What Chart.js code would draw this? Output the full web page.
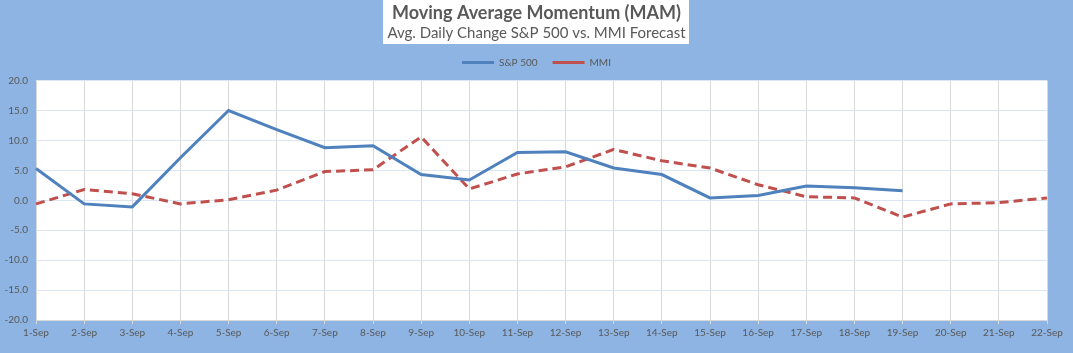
<!DOCTYPE html>
<html>
<head>
<meta charset="utf-8">
<script src="https://cdn.jsdelivr.net/npm/chart.js@4/dist/chart.umd.min.js"></script>
<style>
  html, body { margin: 0; padding: 0; background: #8db4e2; }
  #wrap { width: 1073px; height: 353px; }
</style>
</head>
<body>
<div id="wrap"><canvas id="mam"></canvas></div>
<script>
const days = ["1-Sep", "2-Sep", "3-Sep", "4-Sep", "5-Sep", "6-Sep", "7-Sep", "8-Sep", "9-Sep", "10-Sep", "11-Sep",
  "12-Sep", "13-Sep", "14-Sep", "15-Sep", "16-Sep", "17-Sep", "18-Sep", "19-Sep", "20-Sep", "21-Sep", "22-Sep"];
const sp500 = [5.3, -0.6, -1.1, 7.1, 15.0, 11.8, 8.8, 9.1, 4.3, 3.4, 8.0, 8.1, 5.4, 4.3, 0.4, 0.8, 2.4, 2.1, 1.6, null, null, null];
const mmi = [-0.6, 1.8, 1.1, -0.6, 0.1, 1.7, 4.8, 5.1, 10.6, 1.9, 4.4, 5.6, 8.5, 6.6, 5.4, 2.6, 0.6, 0.4, -2.8, -0.6, -0.4, 0.4];
const yTicks = [-20, -15, -10, -5, 0, 5, 10, 15, 20];

const titleText = "Moving Average Momentum (MAM)";
const subText = "Avg. Daily Change S&P 500 vs. MMI Forecast";
const fontFam = "Lato, 'Open Sans', sans-serif";

// background, white plot area and white box behind the titles
const panels = {
  id: "panels",
  beforeLayout(chart) {
    // leave a little gap between the legend and the plot
    const lg = chart.legend;
    if (lg && !lg._gapPatched) {
      const fit = lg.fit.bind(lg);
      lg.fit = function () { fit(); this.height += 3; };
      lg._gapPatched = true;
    }
  },
  beforeDraw(chart) {
    const { ctx, chartArea: a } = chart;
    ctx.save();
    ctx.fillStyle = "#8db4e2";
    ctx.fillRect(0, 0, chart.width, chart.height);
    ctx.fillStyle = "#ffffff";
    ctx.fillRect(a.left, a.top, a.right - a.left, a.bottom - a.top);
    ctx.font = "15px " + fontFam;
    const w = ctx.measureText(subText).width + 8;
    ctx.fillRect(Math.round(chart.width / 2 - w / 2), 0, Math.round(w), 44);
    ctx.restore();
  }
};

new Chart(document.getElementById("mam"), {
  type: "line",
  data: {
    labels: days,
    datasets: [
      {
        label: "S&P 500",
        data: sp500,
        borderColor: "#4f81bd",
        backgroundColor: "#4f81bd",
        borderWidth: 3,
        pointRadius: 0,
        tension: 0,
        spanGaps: false
      },
      {
        label: "MMI",
        data: mmi,
        borderColor: "#c0504d",
        backgroundColor: "#c0504d",
        borderWidth: 3,
        borderDash: [9, 5],
        pointRadius: 0,
        tension: 0
      }
    ]
  },
  options: {
    responsive: true,
    maintainAspectRatio: false,
    animation: false,
    layout: { padding: 0 },
    plugins: {
      title: {
        display: true,
        text: titleText,
        color: "#595959",
        font: { family: fontFam, size: 18, weight: "bold" },
        padding: { top: 2, bottom: 0 }
      },
      subtitle: {
        display: true,
        text: subText,
        color: "#595959",
        font: { family: fontFam, size: 15 },
        padding: { top: 1, bottom: 0 }
      },
      legend: {
        position: "top",
        labels: {
          color: "#595959",
          font: { family: fontFam, size: 10 },
          usePointStyle: true,
          pointStyle: "line",
          boxWidth: 26,
          pointStyleWidth: 32,
          boxHeight: 3,
          padding: 15
        }
      },
      tooltip: { enabled: false }
    },
    scales: {
      x: {
        offset: false,
        grid: { color: "#d9d9d9", lineWidth: 1, tickLength: 4, offset: false },
        border: { color: "#d9d9d9" },
        ticks: {
          color: "#595959",
          font: { family: fontFam, size: 10 },
          maxRotation: 0,
          autoSkip: false,
          padding: 3
        },
        afterFit(scale) { scale.height = 33; }
      },
      y: {
        min: -20,
        max: 20,
        afterBuildTicks(scale) { scale.ticks = yTicks.map(v => ({ value: v })); },
        grid: { color: "#dce6f2", lineWidth: 1, drawTicks: false },
        border: { display: false },
        ticks: {
          color: "#595959",
          font: { family: fontFam, size: 10 },
          padding: 8,
          callback: v => Number(v).toFixed(1)
        },
        afterFit(scale) { scale.width = 36; }
      },
      // empty right-hand strip so the plot ends where the reference does
      spacer: {
        type: "linear",
        position: "right",
        min: -20,
        max: 20,
        grid: { display: false, drawOnChartArea: false },
        border: { display: false },
        ticks: { display: false },
        afterFit(scale) { scale.width = 26; }
      }
    }
  },
  plugins: [panels]
});
</script>
</body>
</html>
